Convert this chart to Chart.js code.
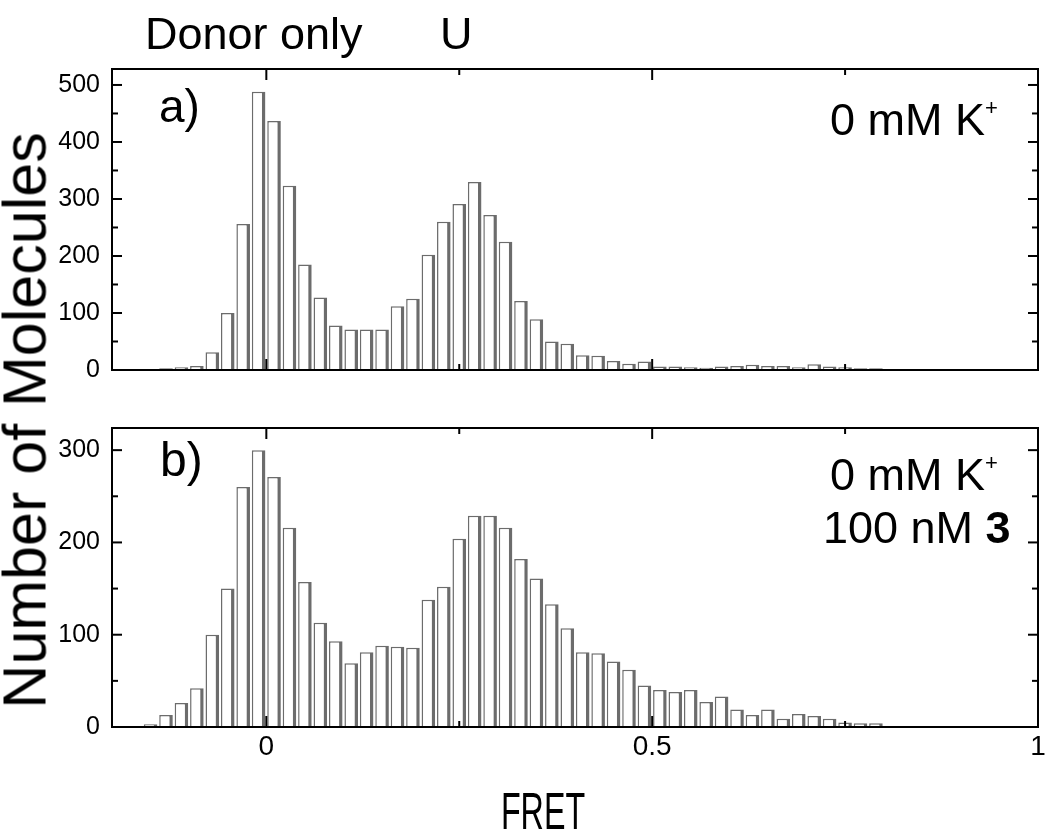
<!DOCTYPE html>
<html><head><meta charset="utf-8">
<script src="https://cdn.jsdelivr.net/npm/chart.js@4/dist/chart.umd.min.js"></script>
<style>
html,body{margin:0;padding:0;background:#fff;}
#wrap{position:relative;width:1050px;height:834px;overflow:hidden;font-family:'Liberation Sans',Arial,sans-serif;color:#000;}
canvas{position:absolute;left:0;}
#ca{top:0;}
#cb{top:400px;}
.t{position:absolute;white-space:nowrap;line-height:1;}
</style></head><body>
<div id="wrap">
<canvas id="ca" width="1050" height="400" style="width:1050px;height:400px"></canvas>
<canvas id="cb" width="1050" height="434" style="width:1050px;height:434px"></canvas>
<div class="t" style="left:145px;top:11px;font-size:45px;">Donor only</div>
<div class="t" style="left:440px;top:11px;font-size:45px;">U</div>
<div class="t" style="left:159px;top:83px;font-size:46px;">a)</div>
<div class="t" style="left:830px;top:97px;font-size:45px;">0 mM K<span style="font-size:22px;position:relative;top:-20px;">+</span></div>
<div class="t" style="left:160px;top:436px;font-size:48px;">b)</div>
<div class="t" style="left:830px;top:452px;font-size:45px;">0 mM K<span style="font-size:22px;position:relative;top:-20px;">+</span></div>
<div class="t" style="left:823px;top:505px;font-size:45px;">100 nM <b>3</b></div>
<div class="t" style="left:-325px;top:390px;width:700px;text-align:center;font-size:61px;transform:rotate(-90deg);">Number of Molecules</div>
<div class="t" style="left:443px;top:785px;width:200px;text-align:center;font-size:52px;transform:scaleX(0.62);">FRET</div>
</div>
<script>
// ---- data ----
const fretBinsA = [-0.13,-0.11,-0.09,-0.07,-0.05,-0.03,-0.01,0.01,0.03,0.05,0.07,0.09,0.11,0.13,0.15,0.17,0.19,0.21,0.23,0.25,0.27,0.29,0.31,0.33,0.35,0.37,0.39,0.41,0.43,0.45,0.47,0.49,0.51,0.53,0.55,0.57,0.59,0.61,0.63,0.65,0.67,0.69,0.71,0.73,0.75,0.77,0.79];
const countsA   = [3,5,7,31,100,256,488,437,323,185,127,78,71,71,71,112,125,202,260,291,330,272,225,121,89,50,46,26,25,16,11,15,6,6,5,4,6,7,9,7,7,5,10,6,5,3,3];
const fretBinsB = [-0.17,-0.15,-0.13,-0.11,-0.09,-0.07,-0.05,-0.03,-0.01,0.01,0.03,0.05,0.07,0.09,0.11,0.13,0.15,0.17,0.19,0.21,0.23,0.25,0.27,0.29,0.31,0.33,0.35,0.37,0.39,0.41,0.43,0.45,0.47,0.49,0.51,0.53,0.55,0.57,0.59,0.61,0.63,0.65,0.67,0.69,0.71,0.73,0.75,0.77,0.79];
const countsB   = [1,3,13,26,42,100,150,260,300,271,216,157,113,93,69,81,88,87,86,138,152,204,229,229,216,182,161,133,107,81,80,71,62,45,40,38,40,27,33,19,13,19,9,14,12,9,5,4,4];
const yTicksA = [0,100,200,300,400,500];
const yMinorA = [50,150,250,350,450];
const yTicksB = [0,100,200,300];
const yMinorB = [50,150,250];
const xTicks = [0,0.5,1];
const xMinor = [0.25,0.75];

const FONT = "'Liberation Sans', Arial, sans-serif";

const framePlugin = {
  id: 'frameTicks',
  afterDatasetsDraw(chart, args, o) {
    const {ctx, chartArea: a, scales: {x, y}} = chart;
    ctx.save();
    ctx.strokeStyle = '#000';
    ctx.lineWidth = 2;
    ctx.strokeRect(a.left, a.top, a.right - a.left, a.bottom - a.top);
    const seg = (x1, y1, x2, y2) => { ctx.beginPath(); ctx.moveTo(x1, y1); ctx.lineTo(x2, y2); ctx.stroke(); };
    o.yMajor.forEach(v => { const p = y.getPixelForValue(v); seg(a.left, p, a.left + 10, p); seg(a.right, p, a.right - 10, p); });
    o.yMinor.forEach(v => { const p = y.getPixelForValue(v); seg(a.left, p, a.left + 6, p); seg(a.right, p, a.right - 6, p); });
    o.xMajor.forEach(v => { const p = x.getPixelForValue(v); seg(p, a.bottom, p, a.bottom - 11); seg(p, a.top, p, a.top + 11); });
    o.xMinor.forEach(v => { const p = x.getPixelForValue(v); seg(p, a.bottom, p, a.bottom - 6); seg(p, a.top, p, a.top + 6); });
    ctx.restore();
  }
};

function makeChart(id, bins, counts, ymax, yTicks, yMinor, showX, padTop, padBottom) {
  return new Chart(document.getElementById(id), {
    type: 'bar',
    data: {
      datasets: [{
        data: bins.map((b, i) => ({x: b, y: counts[i]})),
        backgroundColor: '#ffffff',
        borderColor: '#6c6c6c',
        borderWidth: {left: 1.5, top: 1.5, right: 3.5, bottom: 0},
        borderSkipped: 'start',
        barPercentage: 0.88,
        categoryPercentage: 1
      }]
    },
    options: {
      responsive: false,
      devicePixelRatio: 1,
      animation: false,
      events: [],
      layout: {padding: {left: 0, right: 12, top: padTop, bottom: padBottom}},
      plugins: {legend: {display: false}, tooltip: {enabled: false},
        frameTicks: {yMajor: yTicks, yMinor: yMinor, xMajor: xTicks, xMinor: xMinor}},
      scales: {
        x: {
          type: 'linear', min: -0.2, max: 1, offset: false,
          display: showX,
          grid: {display: false, drawTicks: false},
          border: {display: false},
          afterBuildTicks: s => { s.ticks = xTicks.map(v => ({value: v})); },
          afterFit: s => { if (showX) s.height = 107; },
          ticks: {font: {family: FONT, size: 28}, color: '#000', padding: 3, maxRotation: 0, autoSkip: false,
                  callback: v => String(v)}
        },
        y: {
          min: 0, max: ymax,
          grid: {display: false, drawTicks: false},
          border: {display: false},
          afterBuildTicks: s => { s.ticks = yTicks.map(v => ({value: v})); },
          afterFit: s => { s.width = 112; },
          ticks: {font: {family: FONT, size: 25}, color: '#000', padding: 12}
        }
      }
    },
    plugins: [framePlugin]
  });
}

makeChart('ca', fretBinsA, countsA, 528, yTicksA, yMinorA, false, 69, 30);
makeChart('cb', fretBinsB, countsB, 324, yTicksB, yMinorB, true, 28, 0);
</script>
</body></html>
